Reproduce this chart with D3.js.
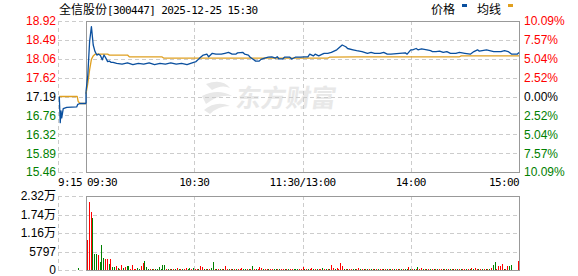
<!DOCTYPE html>
<html>
<head>
<meta charset="utf-8">
<script src="https://cdn.jsdelivr.net/npm/d3@7"></script>
<style>
    body { margin: 0; background: #fff; }
    svg { display: block; }
</style>
</head>
<body>
<div id="chart"></div>
<script>
// Intraday time-share chart: 全信股份 2025-12-25

const stockName = '全信股份';
const stockInfo = '[300447] 2025-12-25 15:30';
const legendNames = ['价格', '均线'];

// price axis (left) and change axis (right)
const priceTicks = [18.92, 18.49, 18.06, 17.62, 17.19, 16.76, 16.32, 15.89, 15.46];
const pctTicks = ['10.09%', '7.57%', '5.04%', '2.52%', '0.00%', '2.52%', '5.04%', '7.57%', '10.09%'];
const prevClose = 17.19;

// volume axis
const volTickValues = [23188, 17391, 11594, 5797, 0];
const volTickLabels = ['2.32万', '1.74万', '1.16万', '5797', '0'];

// time axis: pre-market label + session labels (minutes after 09:30, lunch removed)
const timeLabels = ['09:30', '10:30', '11:30/13:00', '14:00', '15:00'];
const timeMinutes = [0, 60, 120, 180, 240];
const preLabel = '9:15';

// pre-market call auction (minutes after 9:15, price)
const prePrice = [[0.7, 17.19], [1.2, 16.59], [1.6, 16.86], [2.0, 16.70], [2.8, 16.91], [4.7, 16.94],
    [10, 16.95], [10.6, 17.01], [11.8, 17.03], [15, 17.03]];
const preAvg = [[0.7, 17.19], [10.3, 17.19], [10.8, 17.08], [11.8, 17.03], [15, 17.03]];
const preVolume = [[10.8, 500]];

// session price (minute, price)
const price = [
    [0, 17.30], [1, 17.68], [2, 18.45], [3, 18.79], [4, 18.37], [5, 18.22], [6, 18.14], [7, 18.16],
    [8, 18.13], [9, 18.03], [10, 18.14], [11, 18.07], [12, 17.99], [13, 18.00], [14, 17.97], [15, 17.97],
    [17, 17.95], [20, 17.93], [23, 17.96], [26, 17.92], [29, 17.95], [32, 17.93], [35, 17.96], [38, 17.92],
    [41, 17.95], [44, 17.93], [47, 17.96], [50, 17.93], [53, 17.95], [56, 17.92], [58, 17.95], [61, 17.99],
    [63, 18.07], [65, 18.14], [67, 18.16], [68, 18.10], [70, 18.18], [72, 18.16], [75, 18.16], [77, 18.18],
    [79, 18.20], [81, 18.16], [83, 18.16], [84, 18.19], [87, 18.20], [88, 18.16], [90, 18.14], [91, 18.09],
    [93, 18.03], [94, 18.00], [96, 18.00], [97, 18.04], [99, 18.07], [101, 18.09], [103, 18.10], [105, 18.07],
    [106, 18.10], [107, 18.05], [109, 18.05], [110, 18.09], [113, 18.09], [114, 18.05], [116, 18.09], [119, 18.09],
    [121, 18.10], [123, 18.10], [124, 18.16], [126, 18.12], [127, 18.16], [129, 18.12], [131, 18.16], [132, 18.18],
    [134, 18.18], [136, 18.20], [139, 18.26], [142, 18.37], [144, 18.33], [145, 18.29], [148, 18.26], [150, 18.24],
    [153, 18.22], [156, 18.18], [158, 18.20], [160, 18.18], [163, 18.18], [165, 18.20], [167, 18.16], [169, 18.16],
    [177, 18.19], [178, 18.16], [180, 18.26], [181, 18.26], [183, 18.29], [184, 18.26], [186, 18.28], [189, 18.26],
    [191, 18.24], [192, 18.22], [194, 18.22], [196, 18.23], [198, 18.20], [200, 18.22], [202, 18.18], [205, 18.18],
    [207, 18.20], [210, 18.18], [213, 18.16], [215, 18.22], [217, 18.26], [218, 18.23], [222, 18.26], [226, 18.22],
    [230, 18.22], [232, 18.24], [234, 18.22], [236, 18.16], [239, 18.16], [240, 18.20]
];

// session average price (minute, price)
const avgPrice = [
    [0, 17.25], [1, 17.49], [2, 17.80], [3, 18.04], [4, 18.12], [5, 18.16], [12, 18.16], [13, 18.14],
    [23, 18.14], [24, 18.10], [42, 18.10], [43, 18.07], [134, 18.07], [135, 18.09], [150, 18.10],
    [207, 18.10], [208, 18.12], [240, 18.12]
];

// per-minute volume, minute 0..240
const volume = [
    9400, 21200, 18250, 16200, 5000, 5000, 4700, 2600, 7800, 3650,
    3450, 3450, 1900, 3450, 850, 850, 1250, 600, 300, 1450,
    750, 850, 1250, 1250, 300, 1450, 400, 300, 650, 200,
    1250, 2300, 2900, 1050, 300, 300, 300, 300, 300, 300,
    1050, 300, 1450, 1450, 300, 300, 300, 300, 300, 300,
    650, 300, 300, 300, 300, 700, 300, 700, 300, 600,
    300, 400, 300, 1250, 1000, 300, 300, 300, 300, 600,
    2600, 300, 300, 300, 300, 300, 300, 1250, 300, 300,
    300, 300, 300, 300, 300, 300, 700, 300, 300, 300,
    300, 300, 1250, 300, 300, 300, 1000, 700, 300, 300,
    300, 300, 300, 300, 300, 300, 300, 300, 300, 300,
    300, 300, 300, 300, 300, 300, 300, 300, 300, 300,
    1000, 300, 300, 300, 300, 700, 300, 300, 300, 300,
    300, 700, 300, 300, 300, 300, 1500, 700, 300, 700,
    300, 2200, 1250, 300, 300, 300, 300, 300, 300, 300,
    300, 700, 300, 300, 300, 300, 300, 300, 300, 300,
    300, 300, 300, 300, 300, 300, 300, 300, 300, 300,
    300, 300, 300, 300, 300, 300, 300, 300, 300, 1000,
    300, 300, 300, 300, 1000, 300, 700, 300, 300, 300,
    300, 300, 300, 300, 300, 300, 300, 300, 300, 300,
    300, 300, 300, 300, 300, 300, 300, 300, 300, 300,
    300, 300, 300, 300, 700, 300, 700, 300, 300, 300,
    300, 300, 300, 300, 300, 700, 1500, 2500, 300, 1250,
    1250, 1900, 300, 300, 1250, 1250, 1500, 0, 0, 0,
    2800
];

// r = up minute, g = down minute
const volumeDir =
    'rrrgggrggg' + 'rrgrggrgrr' + 'grggrrrrgg' + 'rrgggrgrgg' + 'ggggrgrgrg' +
    'rgrgrrggrg' + 'rrgrrgrgrg' + 'grgrgrgrrg' + 'rgrgrrrggr' + 'grgrgrrrgr' +
    'rgrrggrgrr' + 'grgrrgggrr' + 'rgrgrrgrgr' + 'rgrgrgrrgr' + 'rrrgrgrrgg' +
    'rrgrgrgrgr' + 'grgrrgrgrg' + 'rgrgrgrggr' + 'grgrgrrgrg' + 'rgrgrgrrgr' +
    'grgrgrgrgr' + 'rgrgrgrrgr' + 'grgrgrggrr' + 'rrgrrgggrr' + 'r';

document.addEventListener('DOMContentLoaded', function() {
    drawChart();
});

function drawChart() {
    const width = 578;
    const height = 276;
    const preLeft = 58;
    const left = 86;
    const right = 519;
    const main = { top: 21, bottom: 172 };
    const vol = { top: 196, bottom: 270 };

    const red = '#ff0000';
    const green = '#008000';
    const blue = '#0a4f9e';
    const orange = '#e0a020';
    const gridColor = '#cccccc';
    const frameColor = '#999999';
    const numFont = '"Liberation Sans", Arial, sans-serif';
    const cjkFont = '"Noto Sans CJK SC", sans-serif';
    const monoFont = '"DejaVu Sans Mono", monospace';

    const svg = d3.select('#chart')
        .append('svg')
        .attr('width', width)
        .attr('height', height);

    // scales
    const xPre = d3.scaleLinear().domain([0, 15]).range([preLeft, left]);
    const x = d3.scaleLinear().domain([0, 240]).range([left, right]);
    const xBar = d3.scaleLinear().domain([0, 240]).range([left + 1, right - 1]);
    const y = d3.scaleLinear().domain([15.46, 18.92]).range([main.bottom, main.top]);
    const yVol = d3.scaleLinear().domain([0, 23188]).range([vol.bottom, vol.top]);

    // watermark
    const mark = svg.append('g').attr('fill', '#e8e8e8');
    mark.append('path')
        .attr('d', 'M206,84 Q222,78 230,88 Q222,84 212,90 Z M202,96 Q218,88 232,96 Q218,94 206,104 Z M204,110 Q216,100 230,106 Q218,106 210,114 Z');
    mark.append('text')
        .attr('x', 236)
        .attr('y', 107)
        .attr('transform', 'skewX(-8) translate(14,0)')
        .style('font-family', cjkFont)
        .style('font-size', '25px')
        .style('font-weight', 'bold')
        .text('东方财富');

    // grid
    const grid = svg.append('g')
        .attr('stroke', gridColor)
        .attr('stroke-dasharray', '4,3')
        .attr('shape-rendering', 'crispEdges');

    priceTicks.forEach(p => {
        grid.append('line')
            .attr('x1', preLeft).attr('x2', right)
            .attr('y1', Math.round(y(p)) + 0.5).attr('y2', Math.round(y(p)) + 0.5);
    });
    volTickValues.forEach(v => {
        grid.append('line')
            .attr('x1', preLeft).attr('x2', right)
            .attr('y1', Math.round(yVol(v)) + 0.5).attr('y2', Math.round(yVol(v)) + 0.5);
    });
    [xPre(0), x(60), x(120), x(180)].forEach(gx => {
        const px = Math.round(gx) + 0.5;
        grid.append('line').attr('x1', px).attr('x2', px).attr('y1', main.top).attr('y2', main.bottom);
        grid.append('line').attr('x1', px).attr('x2', px).attr('y1', vol.top).attr('y2', vol.bottom);
    });

    // frames
    [main, vol].forEach(f => {
        svg.append('rect')
            .attr('x', left + 0.5)
            .attr('y', Math.round(f.top) + 0.5)
            .attr('width', right - left)
            .attr('height', Math.round(f.bottom) - Math.round(f.top))
            .attr('fill', 'none')
            .attr('stroke', frameColor)
            .attr('shape-rendering', 'crispEdges');
    });

    // left price axis
    const leftAxis = svg.append('g')
        .attr('transform', `translate(${preLeft},0)`)
        .call(d3.axisLeft(y).tickValues(priceTicks).tickSize(0).tickPadding(2).tickFormat(d3.format('.2f')));
    leftAxis.select('.domain').remove();
    leftAxis.selectAll('text')
        .style('font-family', numFont)
        .style('font-size', '12px')
        .attr('fill', d => d > prevClose + 0.001 ? red : (d < prevClose - 0.001 ? green : '#000'));

    // right percent axis
    const rightAxis = svg.append('g')
        .attr('transform', `translate(${right},0)`)
        .call(d3.axisRight(y).tickValues(priceTicks).tickSize(0).tickPadding(5)
            .tickFormat((d, i) => pctTicks[i]));
    rightAxis.select('.domain').remove();
    rightAxis.selectAll('text')
        .style('font-family', numFont)
        .style('font-size', '12px')
        .attr('fill', d => d > prevClose + 0.001 ? red : (d < prevClose - 0.001 ? green : '#000'));

    // volume axis
    const volAxis = svg.append('g')
        .attr('transform', `translate(${preLeft},0)`)
        .call(d3.axisLeft(yVol).tickValues(volTickValues).tickSize(0).tickPadding(2)
            .tickFormat((d, i) => volTickLabels[i]));
    volAxis.select('.domain').remove();
    volAxis.selectAll('text')
        .style('font-family', numFont + ', ' + cjkFont)
        .style('font-size', '12px')
        .attr('fill', '#000');

    // time labels
    const anchors = ['start', 'middle', 'middle', 'middle', 'end'];
    svg.append('text')
        .attr('x', xPre(0))
        .attr('y', 186)
        .style('font-family', monoFont)
        .style('font-size', '11px')
        .style('letter-spacing', '-0.6px')
        .text(preLabel);
    timeLabels.forEach((t, i) => {
        svg.append('text')
            .attr('x', x(timeMinutes[i]) + (i === 0 ? 1 : 0))
            .attr('y', 186)
            .attr('text-anchor', anchors[i])
            .style('font-family', monoFont)
            .style('font-size', '11px')
            .style('letter-spacing', '-0.6px')
            .text(t);
    });

    // title
    const title = svg.append('text')
        .attr('x', 59)
        .attr('y', 14);
    title.append('tspan')
        .style('font-family', cjkFont)
        .style('font-size', '12px')
        .text(stockName);
    title.append('tspan')
        .style('font-family', monoFont)
        .style('font-size', '11px')
        .style('letter-spacing', '-0.6px')
        .text(stockInfo);

    // legend
    const legendX = [431, 477];
    const legendColors = [blue, orange];
    legendNames.forEach((name, i) => {
        svg.append('text')
            .attr('x', legendX[i])
            .attr('y', 14)
            .style('font-family', cjkFont)
            .style('font-size', '12px')
            .text(name);
        svg.append('rect')
            .attr('x', legendX[i] + 31)
            .attr('y', 4)
            .attr('width', 5)
            .attr('height', 3)
            .attr('fill', legendColors[i]);
    });

    // volume bars
    const bars = svg.append('g').attr('shape-rendering', 'crispEdges');
    bars.selectAll('.vol')
        .data(volume.map((v, i) => ({ m: i, v: v, dir: volumeDir[i] })).filter(d => d.v > 0))
        .enter()
        .append('rect')
        .attr('class', 'vol')
        .attr('x', d => Math.round(xBar(d.m)))
        .attr('y', d => yVol(d.v))
        .attr('width', 1)
        .attr('height', d => vol.bottom - yVol(d.v))
        .attr('fill', d => d.dir === 'r' ? red : green);
    bars.selectAll('.prevol')
        .data(preVolume)
        .enter()
        .append('rect')
        .attr('x', d => Math.round(xPre(d[0])))
        .attr('y', d => yVol(d[1]))
        .attr('width', 1)
        .attr('height', d => vol.bottom - yVol(d[1]))
        .attr('fill', green);

    // price lines
    const preLine = d3.line().x(d => xPre(d[0])).y(d => y(d[1]));
    const line = d3.line().x(d => x(d[0])).y(d => y(d[1]));

    const lines = [
        { data: preAvg, gen: preLine, color: orange },
        { data: avgPrice, gen: line, color: orange },
        { data: prePrice, gen: preLine, color: blue },
        { data: price, gen: line, color: blue }
    ];
    lines.forEach(l => {
        svg.append('path')
            .attr('d', l.gen(l.data))
            .attr('fill', 'none')
            .attr('stroke', l.color)
            .attr('stroke-width', 1.3)
            .attr('stroke-linejoin', 'round');
    });

    // connect pre-market close to the 09:30 open
    svg.append('path')
        .attr('d', d3.line()([[xPre(15), y(prePrice[prePrice.length - 1][1])], [x(0), y(price[0][1])]]))
        .attr('stroke', blue)
        .attr('stroke-width', 1.3);
}
</script>
</body>
</html>
